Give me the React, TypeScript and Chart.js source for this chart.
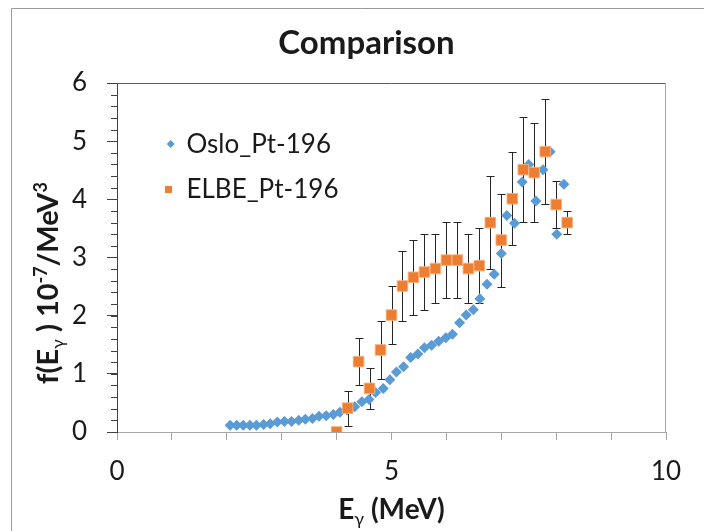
import React, { useEffect, useRef } from "react";
import { Chart, registerables } from "chart.js";
Chart.register(...registerables);

const chartTitle = "Comparison";
const seriesNames = ["Oslo_Pt-196", "ELBE_Pt-196"];

const osloE = [2.06, 2.18, 2.3, 2.42, 2.54, 2.67, 2.79, 2.92, 3.05, 3.18, 3.31, 3.43, 3.56, 3.68, 3.81, 3.94, 4.06, 4.19, 4.33, 4.46, 4.59, 4.71, 4.85, 4.97, 5.09, 5.22, 5.35, 5.48, 5.6, 5.73, 5.86, 5.99, 6.11, 6.24, 6.36, 6.49, 6.61, 6.74, 6.87, 7.0, 7.1, 7.24, 7.38, 7.5, 7.63, 7.76, 7.89, 8.01, 8.14];
const osloF = [0.115, 0.115, 0.115, 0.115, 0.115, 0.13, 0.14, 0.17, 0.18, 0.18, 0.2, 0.22, 0.23, 0.27, 0.28, 0.3, 0.34, 0.38, 0.435, 0.52, 0.56, 0.68, 0.75, 0.9, 1.03, 1.12, 1.28, 1.34, 1.45, 1.49, 1.56, 1.62, 1.68, 1.88, 2.01, 2.1, 2.29, 2.54, 2.71, 3.07, 3.72, 3.59, 4.3, 4.6, 3.97, 4.51, 4.82, 3.4, 4.26];

const elbeE = [4.0, 4.2, 4.4, 4.6, 4.8, 5.0, 5.2, 5.4, 5.6, 5.8, 6.0, 6.2, 6.4, 6.6, 6.8, 7.0, 7.2, 7.4, 7.6, 7.8, 8.0, 8.2];
const elbeF = [0.0, 0.41, 1.21, 0.75, 1.41, 2.01, 2.51, 2.66, 2.75, 2.81, 2.955, 2.955, 2.81, 2.86, 3.6, 3.3, 4.01, 4.51, 4.46, 4.82, 3.91, 3.6];
const elbeErr = [0, 0.3, 0.4, 0.35, 0.5, 0.5, 0.6, 0.64, 0.65, 0.6, 0.65, 0.65, 0.6, 0.65, 0.8, 0.8, 0.8, 0.9, 0.85, 0.9, 0.4, 0.2];

const xMin = 0, xMax = 10, xStep = 1, xLabelEvery = 5;
const yMin = 0, yMax = 6, yStep = 1, yMinorStep = 0.2;

const BLUE = "#5B9BD5";
const ORANGE = "#ED7D31";
const TEXT = "#1a1a1a";
const FONT = "Lato, 'Open Sans', sans-serif";

type Part = { t: string; s: number; b?: boolean; dy?: number };

function drawRich(ctx: CanvasRenderingContext2D, parts: Part[], cx: number, baseY: number) {
  let w = 0;
  const widths = parts.map((p) => {
    ctx.font = `${p.b ? "bold " : ""}${p.s}px ${FONT}`;
    const m = ctx.measureText(p.t).width;
    w += m;
    return m;
  });
  let x = cx - w / 2;
  ctx.textBaseline = "alphabetic";
  ctx.textAlign = "left";
  parts.forEach((p, i) => {
    ctx.font = `${p.b ? "bold " : ""}${p.s}px ${FONT}`;
    ctx.fillText(p.t, x, baseY + (p.dy || 0));
    x += widths[i];
  });
}

const decorPlugin = {
  id: "decor",
  beforeDatasetsDraw(chart: any) {
    const ctx = chart.ctx;
    const xs = chart.scales.x, ys = chart.scales.y;
    ctx.save();
    ctx.strokeStyle = "#262626";
    ctx.lineWidth = 1;
    elbeE.forEach((e, i) => {
      const err = elbeErr[i];
      if (!err) return;
      const px = Math.round(xs.getPixelForValue(e)) + 0.5;
      const top = Math.round(ys.getPixelForValue(elbeF[i] + err)) + 0.5;
      const bot = Math.round(ys.getPixelForValue(elbeF[i] - err)) + 0.5;
      ctx.beginPath();
      ctx.moveTo(px, top);
      ctx.lineTo(px, bot);
      ctx.moveTo(px - 4, top);
      ctx.lineTo(px + 4, top);
      ctx.moveTo(px - 4, bot);
      ctx.lineTo(px + 4, bot);
      ctx.stroke();
    });
    ctx.restore();
  },
  afterDraw(chart: any) {
    const ctx = chart.ctx;
    const a = chart.chartArea;
    const ys = chart.scales.y;
    ctx.save();
    // outer border
    ctx.strokeStyle = "#9a9a9a";
    ctx.lineWidth = 1;
    ctx.beginPath();
    ctx.moveTo(3.5, chart.height);
    ctx.lineTo(3.5, 0.5);
    ctx.lineTo(chart.width, 0.5);
    ctx.stroke();
    // plot area top & right
    ctx.strokeStyle = "#595959";
    ctx.beginPath();
    ctx.moveTo(a.left, Math.round(a.top) + 0.5);
    ctx.lineTo(a.right, Math.round(a.top) + 0.5);
    ctx.stroke();
    ctx.strokeStyle = "#a6a6a6";
    ctx.beginPath();
    ctx.moveTo(Math.round(a.right) - 0.5, a.top);
    ctx.lineTo(Math.round(a.right) - 0.5, a.bottom);
    ctx.stroke();
    // minor y ticks
    ctx.strokeStyle = "#404040";
    ctx.beginPath();
    for (let v = yMin; v <= yMax + 1e-9; v += yMinorStep) {
      const py = Math.round(ys.getPixelForValue(v)) + 0.5;
      ctx.moveTo(a.left - 6, py);
      ctx.lineTo(a.left, py);
    }
    ctx.stroke();
    // title
    ctx.fillStyle = TEXT;
    drawRich(ctx, [{ t: chartTitle, s: 33, b: true }], 358.5, 46);
    // x axis title
    drawRich(ctx, [
      { t: "E", s: 28, b: true },
      { t: "γ", s: 18, b: false, dy: 6 },
      { t: " (MeV)", s: 28, b: true },
    ], (a.left + a.right) / 2, 511);
    // y axis title
    ctx.save();
    ctx.translate(50, 275);
    ctx.rotate(-Math.PI / 2);
    drawRich(ctx, [
      { t: "f(E", s: 29, b: true },
      { t: "γ", s: 18, b: false, dy: 6 },
      { t: " ) 10", s: 29, b: true },
      { t: "-7", s: 18, b: true, dy: -11 },
      { t: "/MeV", s: 29, b: true },
      { t: "3", s: 18, b: true, dy: -11 },
    ], 0, 0);
    ctx.restore();
    // legend
    ctx.font = `26px ${FONT}`;
    ctx.textAlign = "left";
    ctx.textBaseline = "alphabetic";
    ctx.fillStyle = BLUE;
    ctx.beginPath();
    const dx = 162.7, dy = 136;
    ctx.moveTo(dx, dy - 4);
    ctx.lineTo(dx + 4, dy);
    ctx.lineTo(dx, dy + 4);
    ctx.lineTo(dx - 4, dy);
    ctx.closePath();
    ctx.fill();
    ctx.fillStyle = ORANGE;
    ctx.fillRect(157, 178, 7, 7);
    ctx.fillStyle = TEXT;
    ctx.fillText(seriesNames[0], 178.5, 144.5);
    ctx.fillText(seriesNames[1], 178.5, 189.5);
    ctx.restore();
  },
};

export default function App() {
  const ref = useRef<HTMLCanvasElement>(null);
  useEffect(() => {
    if (!ref.current) return;
    const chart = new Chart(ref.current, {
      type: "scatter",
      data: {
        datasets: [
          {
            label: seriesNames[0],
            data: osloE.map((x, i) => ({ x, y: osloF[i] })),
            pointStyle: "rectRot",
            pointRadius: 5.5,
            backgroundColor: BLUE,
            borderColor: BLUE,
            borderWidth: 0,
            order: 2,
          },
          {
            label: seriesNames[1],
            data: elbeE.map((x, i) => ({ x, y: elbeF[i] })),
            pointStyle: "rect",
            pointRadius: 7.5,
            backgroundColor: ORANGE,
            borderColor: "rgba(244,177,131,0.9)",
            borderWidth: 1,
            order: 1,
          },
        ],
      },
      options: {
        responsive: false,
        animation: false,
        events: [],
        layout: { padding: { top: 75, right: 46, left: 0, bottom: 0 } },
        plugins: { legend: { display: false }, title: { display: false }, tooltip: { enabled: false } },
        scales: {
          x: {
            type: "linear",
            min: xMin,
            max: xMax,
            afterFit: (s: any) => { s.height = 99; },
            ticks: {
              stepSize: xStep,
              autoSkip: false,
              maxRotation: 0,
              padding: 16,
              color: TEXT,
              font: { family: FONT, size: 26 },
              callback: (v: any) => (Number(v) % xLabelEvery === 0 ? String(v) : ""),
            },
            grid: { drawOnChartArea: false, drawTicks: true, tickLength: 8, color: "#a6a6a6" },
            border: { color: "#a6a6a6" },
          },
          y: {
            type: "linear",
            min: yMin,
            max: yMax,
            afterFit: (s: any) => { s.width = 109; },
            ticks: {
              stepSize: yStep,
              padding: 20,
              color: TEXT,
              font: { family: FONT, size: 26 },
            },
            grid: { drawOnChartArea: false, drawTicks: true, tickLength: 10, color: "#404040" },
            border: { color: "#404040" },
          },
        },
      },
      plugins: [decorPlugin],
    });
    return () => chart.destroy();
  }, []);
  return (
    <div style={{ width: 704, height: 523 }}>
      <canvas ref={ref} width={704} height={523} style={{ display: "block" }} />
    </div>
  );
}
